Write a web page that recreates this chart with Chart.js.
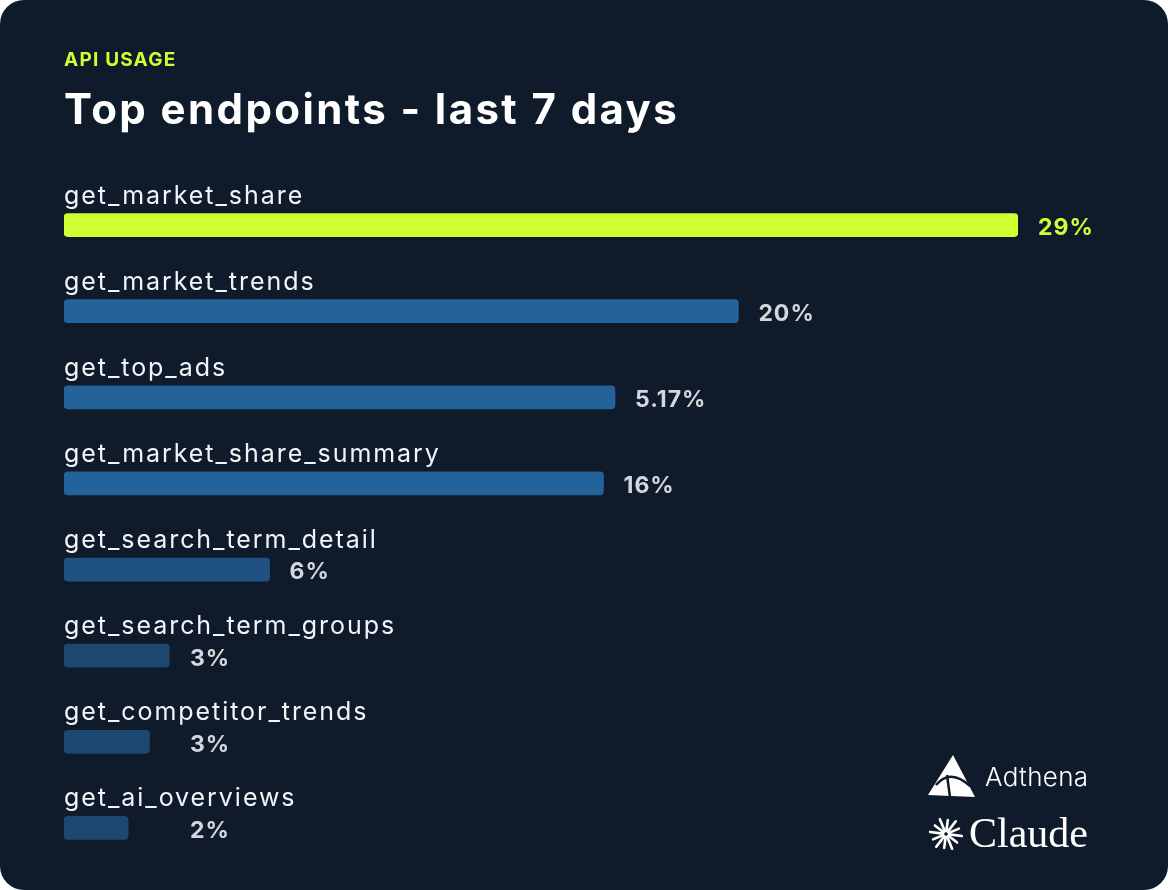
<!DOCTYPE html>
<html>
<head>
<meta charset="utf-8">
<script src="https://cdn.jsdelivr.net/npm/chart.js@4"></script>
<style>
  html, body { margin: 0; padding: 0; background: #ffffff; }
  #card {
    position: relative; width: 1168px; height: 890px;
    background: #0f1b2b; border-radius: 24px; overflow: hidden;
    font-family: Inter, "Open Sans", sans-serif;
  }
  #kicker { position: absolute; left: 64px; top: 48px; color: #cdff33; font-weight: 700; font-size: 19px; letter-spacing: 1.2px; }
  #title { position: absolute; left: 64px; top: 83px; color: #ffffff; font-weight: 700; font-size: 42px; letter-spacing: 2.4px; }
  #chart { position: absolute; left: 0; top: 0; }
  #logos { position: absolute; left: 0; top: 0; }
</style>
</head>
<body>
<div id="card">
  <canvas id="chart" width="1168" height="890"></canvas>
  <div id="kicker">API USAGE</div>
  <div id="title">Top endpoints - last 7 days</div>
  <svg id="logos" width="1168" height="890">
    <!-- Adthena mark -->
    <polygon points="953,755 975,797 928,795" fill="#ffffff"/>
    <path d="M936,785 Q950,768 970,786" stroke="#0f1b2b" stroke-width="2.5" fill="none"/>
    <path d="M947,775 L950,797" stroke="#0f1b2b" stroke-width="2.5" fill="none"/>
    <text x="985" y="786" fill="#ffffff" font-family="Inter, sans-serif" font-size="26" font-weight="300" letter-spacing="0.3">Adthena</text>
    <!-- Claude mark -->
    <g stroke="#ffffff" stroke-width="2.6" stroke-linecap="round" id="burst"></g>
    <text x="969" y="847" fill="#ffffff" font-family="'Liberation Serif', serif" font-size="42">Claude</text>
  </svg>
</div>
<script>
const endpoints = [
  'get_market_share',
  'get_market_trends',
  'get_top_ads',
  'get_market_share_summary',
  'get_search_term_detail',
  'get_search_term_groups',
  'get_competitor_trends',
  'get_ai_overviews'
];
const shares = [29, 20.5, 16.75, 16.4, 6.25, 3.2, 2.6, 1.95];
const shareLabels = ['29%', '20%', '5.17%', '16%', '6%', '3%', '3%', '2%'];
const barColors = ['#cdff33', '#236399', '#236399', '#236399', '#1f5282', '#1c4870', '#1c4870', '#1c4870'];

// starburst for the Claude mark
const burst = document.getElementById('burst');
for (let i = 0; i < 12; i++) {
  const a = (i / 12) * Math.PI * 2 + 0.13;
  const r = i % 2 ? 14 : 16;
  const l = document.createElementNS('http://www.w3.org/2000/svg', 'line');
  l.setAttribute('x1', 946 + Math.cos(a) * 3);
  l.setAttribute('y1', 834 + Math.sin(a) * 3);
  l.setAttribute('x2', 946 + Math.cos(a) * r);
  l.setAttribute('y2', 834 + Math.sin(a) * r);
  burst.appendChild(l);
}

const rowLabels = {
  id: 'rowLabels',
  afterDatasetsDraw(chart) {
    const ctx = chart.ctx;
    const x = chart.scales.x;
    const y = chart.scales.y;
    ctx.save();
    ctx.textBaseline = 'middle';
    endpoints.forEach((name, i) => {
      const cy = y.getPixelForValue(i);
      ctx.fillStyle = '#f2f4f7';
      ctx.font = '400 25px Inter, sans-serif';
      ctx.letterSpacing = '1.95px';
      ctx.textAlign = 'left';
      ctx.fillText(name, x.left, cy - 29);
      // value labels never sit closer than a fixed column to the left edge
      ctx.fillStyle = i === 0 ? '#cdff33' : '#d3d6db';
      ctx.font = '700 23px Inter, sans-serif';
      ctx.letterSpacing = '1px';
      const lx = Math.max(x.getPixelForValue(shares[i]) + 20, x.left + 126);
      ctx.fillText(shareLabels[i], lx, cy + 3);
    });
    ctx.restore();
  }
};

new Chart(document.getElementById('chart'), {
  type: 'bar',
  data: {
    labels: endpoints,
    datasets: [{
      data: shares,
      backgroundColor: barColors,
      borderRadius: 4,
      borderSkipped: false,
      barThickness: 23
    }]
  },
  options: {
    indexAxis: 'y',
    responsive: false,
    animation: false,
    layout: { padding: { left: 64, right: 150, top: 182, bottom: 19 } },
    plugins: { legend: { display: false }, tooltip: { enabled: false } },
    scales: {
      x: { min: 0, max: 29, display: false },
      y: { display: false }
    }
  },
  plugins: [rowLabels]
});
</script>
</body>
</html>
